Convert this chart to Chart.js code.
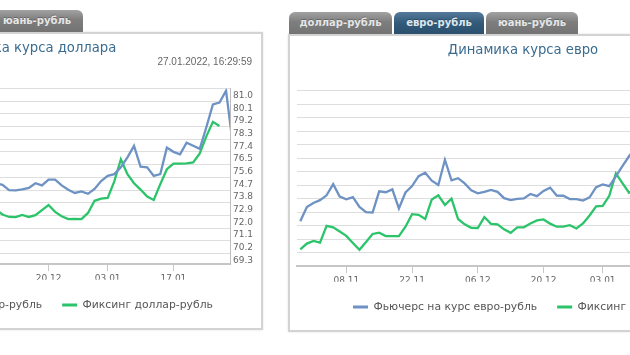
<!DOCTYPE html>
<html><head><meta charset="utf-8">
<script src="https://cdn.jsdelivr.net/npm/chart.js@4"></script>
<style>
html,body{margin:0;padding:0;background:#fff;width:630px;height:355px;overflow:hidden;position:relative;font-family:'DejaVu Sans',sans-serif}
.panel{position:absolute;width:470px;height:298px;box-sizing:border-box;border:2px solid #d3d3d3;background:#fff;box-shadow:0 0 2px rgba(0,0,0,.12)}
.panel canvas{position:absolute;left:-2px;top:-2px}
.tab{position:absolute;top:-24px;height:22px;border-radius:6px 6px 0 0;font:bold 10px 'DejaVu Sans';color:#e6e6e6;text-align:center;line-height:22px;background:linear-gradient(#a2a2a2,#7e7e7e 45%,#737373);text-shadow:0 -1px 0 rgba(0,0,0,.25);white-space:nowrap}
.tab.active{background:linear-gradient(#56799a,#325a79 50%,#2a506d);color:#dde7ef}
.stamp{position:absolute;right:9px;top:22px;font:10px 'Liberation Sans';line-height:12px;color:#666}
</style></head>
<body>
<div class="panel" id="pUsd" style="left:-207px;top:32px">
  <div class="tab active" style="left:-1px;width:103px">доллар-рубль</div>
  <div class="tab" style="left:104px;width:90px">евро-рубль</div>
  <div class="tab" style="left:196px;width:92px">юань-рубль</div>
  <canvas id="cUsd" width="470" height="298"></canvas>
  <div class="stamp">27.01.2022, 16:29:59</div>
</div>
<div class="panel" id="pEur" style="left:288px;top:34px">
  <div class="tab" style="left:-1px;width:103px">доллар-рубль</div>
  <div class="tab active" style="left:104px;width:90px">евро-рубль</div>
  <div class="tab" style="left:196px;width:92px">юань-рубль</div>
  <canvas id="cEur" width="470" height="298"></canvas>
  <div class="stamp">27.01.2022, 16:29:59</div>
</div>
<script>
const dates = ['27.10','28.10','29.10','01.11','02.11','03.11','05.11',
  '08.11','09.11','10.11','11.11','12.11','15.11','16.11','17.11','18.11','19.11',
  '22.11','23.11','24.11','25.11','26.11','29.11','30.11','01.12','02.12','03.12',
  '06.12','07.12','08.12','09.12','10.12','13.12','14.12','15.12','16.12','17.12',
  '20.12','21.12','22.12','23.12','24.12','27.12','28.12','29.12','30.12',
  '03.01','04.01','05.01','06.01','07.01','10.01','11.01','12.01','13.01','14.01',
  '17.01','18.01','19.01','20.01','21.01','24.01','25.01','26.01','27.01','27.01 16:29'];
const tickDates = ['08.11','22.11','06.12','20.12','03.01','17.01'];

const usdFutures = [71.6,71.8,71.9,72.1,71.9,72.0,72.3,72.2,71.9,72.1,
  72.4,72.6,72.5,72.9,73.2,73.5,73.4,73.9,74.6,75.2,
  75.1,75.8,76.1,75.4,74.8,74.9,74.7,74.5,74.8,74.6,
  74.52,74.22,74.20,74.26,74.35,74.61,74.49,74.82,74.82,74.49,
  74.24,74.06,74.15,74.01,74.29,74.74,75.03,75.13,75.52,76.09,
  76.74,75.55,75.52,75.03,75.13,76.64,76.40,76.26,76.92,76.75,
  76.57,77.80,79.10,79.21,79.88,76.90];
const usdFixing = [70.8,71.0,71.1,71.3,71.1,71.2,71.5,71.3,71.1,71.3,
  71.5,71.8,71.7,72.0,72.4,72.7,72.6,73.1,73.8,74.4,
  74.3,74.9,75.2,74.6,73.9,73.8,73.6,73.3,73.5,73.1,
  72.83,72.69,72.68,72.81,72.69,72.79,73.08,73.37,72.98,72.73,
  72.57,72.58,72.57,72.92,73.61,73.73,73.78,74.72,75.98,75.13,
  74.61,74.25,73.85,73.66,74.56,75.41,75.73,75.73,75.74,75.80,
  76.31,77.28,78.11,77.87];
const eurFutures = [84.05,84.70,84.88,85.01,85.23,85.74,85.17,85.05,85.15,84.70,
  84.46,84.44,85.41,85.37,85.50,84.63,85.36,85.65,86.10,86.26,
  85.90,85.70,86.85,85.91,86.01,85.77,85.46,85.32,85.39,85.48,
  85.39,85.10,85.01,85.07,85.09,85.29,85.19,85.43,85.58,85.22,
  85.21,85.06,85.06,84.99,85.14,85.60,85.73,85.65,86.09,86.56,
  87.01,87.40,87.20,87.00,87.20,87.30,87.10,87.30,87.70,88.00,
  88.30,88.80,89.10,89.20,89.40,88.70];
const eurFixing = [82.77,83.03,83.15,83.07,83.84,83.77,83.58,83.38,83.06,82.75,
  83.10,83.47,83.53,83.37,83.37,83.37,83.80,84.37,84.34,84.15,
  85.04,85.23,84.79,85.08,84.15,83.91,83.75,83.74,84.24,83.93,
  83.91,83.68,83.52,83.77,83.77,83.95,84.09,84.13,83.94,83.80,
  83.80,83.87,83.72,83.95,84.31,84.73,84.75,85.21,86.23,85.79,
  85.35,85.50,85.70,85.60,85.80,85.90,85.80,86.00,86.30,86.60,
  87.00,87.40,87.90,88.10];
const usdTicks = [69.3,70.2,71.1,72.0,72.9,73.8,74.7,75.6,76.5,77.4,78.3,79.2,80.1,81.0];
const eurTicks = [81.8,82.4,83.0,83.6,84.2,84.8,85.4,86.0,86.6,87.2,87.8,88.4,89.0,89.6];

const BLUE = '#6d92c3';
const GREEN = '#2cc46a';
Chart.defaults.font.family = "'DejaVu Sans', sans-serif";

function makeChart(id, title, futLabel, fixLabel, fut, fix, yTicks, yMin, yMax) {
  const toXY = arr => arr.map((v, i) => ({x: i, y: v}));
  return new Chart(document.getElementById(id), {
    type: 'line',
    data: {
      datasets: [
        {label: futLabel, data: toXY(fut), borderColor: BLUE, backgroundColor: BLUE,
         borderWidth: 2.3, pointRadius: 0, tension: 0, clip: 0, pointStyle: 'line'},
        {label: fixLabel, data: toXY(fix), borderColor: GREEN, backgroundColor: GREEN,
         borderWidth: 2.3, pointRadius: 0, tension: 0, clip: 0, pointStyle: 'line'}
      ]
    },
    options: {
      responsive: false, animation: false, devicePixelRatio: 1,
      layout: {padding: {left: 0, right: 0, top: 0, bottom: 9.5}},
      plugins: {
        tooltip: {enabled: false},
        title: {display: true, text: title, color: '#3a6c91',
          font: {size: 13.2, weight: 'normal'}, padding: {top: 9, bottom: 31.8}},
        legend: {position: 'bottom',
          labels: {usePointStyle: true, pointStyle: 'line', pointStyleWidth: 15,
            padding: 20, color: '#555', font: {size: 10.8},
            generateLabels: chart => Chart.defaults.plugins.legend.labels.generateLabels(chart)
              .map(l => Object.assign(l, {lineWidth: 3}))}}
      },
      scales: {
        x: {type: 'linear', min: -0.5, max: 64.6,
          afterBuildTicks: s => { s.ticks = tickDates.map(d => ({value: dates.indexOf(d)})); },
          ticks: {autoSkip: false, maxRotation: 0, color: '#666', font: {size: 9}, padding: 2,
            callback: v => dates[v]},
          grid: {drawOnChartArea: false, drawTicks: true, tickLength: 7, color: '#c8c8c8'},
          border: {display: true, color: '#c6c6c6', width: 2},
          afterFit: s => { s.height = 15.5; }},
        yl: {type: 'linear', position: 'left', display: true,
          grid: {display: false}, ticks: {display: false}, border: {display: false},
          afterFit: s => { s.width = 9; }},
        y: {type: 'linear', position: 'right', min: yMin, max: yMax,
          afterBuildTicks: s => { s.ticks = yTicks.map(v => ({value: v})); },
          ticks: {autoSkip: false, color: '#666', font: {size: 9}, padding: 3, labelOffset: 7,
            callback: v => Number(v).toFixed(1)},
          grid: {color: '#dedede', lineWidth: 1, drawTicks: false},
          border: {display: true, color: '#bdbdbd', width: 1},
          afterFit: s => { s.width = 33; }}
      }
    }
  });
}

makeChart('cUsd', 'Динамика курса доллара', 'Фьючерс на курс доллар-рубль', 'Фиксинг доллар-рубль',
  usdFutures, usdFixing, usdTicks, 68.53, 81.0);
makeChart('cEur', 'Динамика курса евро', 'Фьючерс на курс евро-рубль', 'Фиксинг евро-рубль',
  eurFutures, eurFixing, eurTicks, 81.8, 89.6);
</script>
</body></html>
